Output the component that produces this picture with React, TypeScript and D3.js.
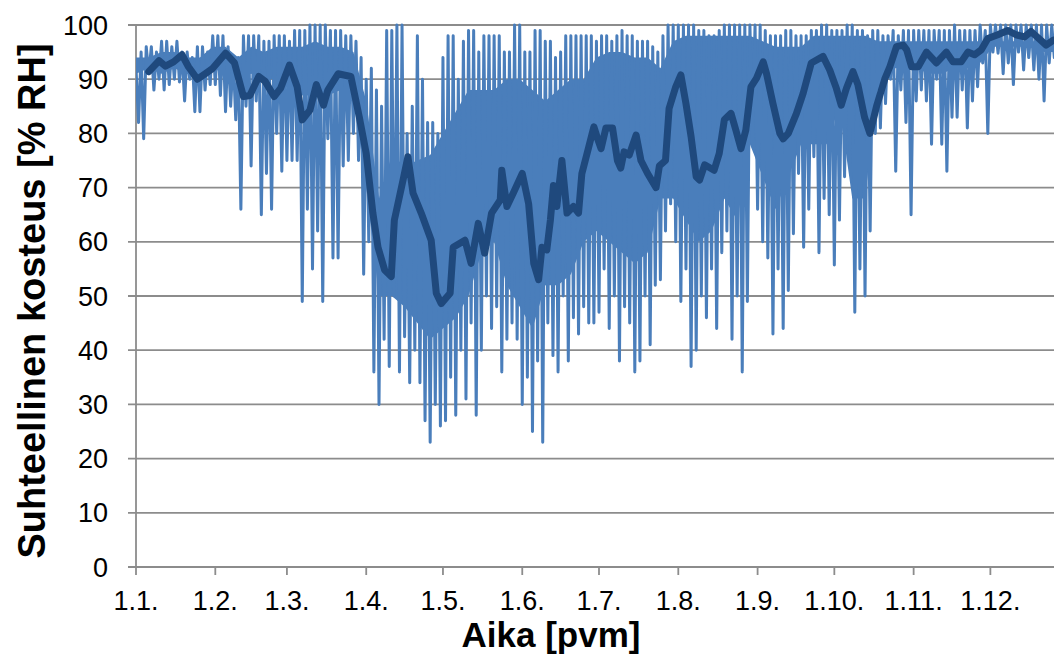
import React from "react";
import * as d3 from "d3";

const YEAR = 2013;

// Hourly RH envelope, read every 2 days: upper and lower excursion of the raw series
const rhHigh = [
  92, 95, 96, 96, 95, 97, 97, 96, 97, 95, 95, 94, 96, 96, 95,
  98, 98, 98, 96, 94, 94, 98, 98, 98, 98, 97, 97, 98, 98, 98,
  97, 99, 99, 99, 100, 100, 100, 100, 99, 99, 99, 98, 98, 97, 94,
  90, 92, 88, 85, 99, 99, 100, 100, 80, 85, 98, 90, 82, 82, 80,
  94, 98, 98, 90, 97, 99, 99, 95, 98, 98, 98, 98, 95, 95, 100,
  100, 95, 95, 99, 99, 97, 97, 94, 95, 98, 98, 98, 98, 98, 98,
  97, 98, 98, 97, 98, 99, 98, 98, 97, 97, 97, 96, 95, 98, 100,
  100, 100, 100, 100, 100, 99, 99, 98, 98, 99, 100, 100, 100, 100, 100,
  100, 100, 100, 99, 98, 98, 98, 99, 99, 98, 98, 98, 99, 99, 100,
  100, 99, 99, 99, 100, 100, 99, 99, 98, 99, 99, 98, 98, 99, 98,
  99, 99, 99, 99, 99, 99, 99, 99, 99, 99, 100, 99, 99, 99, 99,
  100, 99, 100, 100, 100, 100, 100, 100, 100, 100, 100, 100, 100, 100, 100, 99, 99, 99,
];
const rhLow = [
  82, 79, 91, 88, 90, 88, 89, 90, 89.5, 86, 90, 84, 84, 88, 89,
  89, 87, 84, 85, 82.5, 66, 85, 74, 86, 65, 72.6, 66, 80, 73, 75,
  75, 75, 49, 66, 55, 62, 49, 79, 57, 57, 74, 75, 80, 75, 54,
  60, 36, 30, 42, 37, 50, 36, 42.5, 34, 40, 34, 27, 23, 30, 26,
  27, 35, 28, 40, 31, 45, 28, 40, 50, 44, 48, 36, 42, 45, 42,
  30, 35, 25, 38, 23, 45, 39, 36, 50, 38, 46, 43, 48, 45, 45,
  47, 55, 44, 50, 38, 48, 45, 36, 38, 50, 41, 52, 53, 62, 67,
  60, 49, 55, 37, 40, 50, 46, 55, 44, 58, 62, 42, 50, 36, 49,
  78, 66, 60, 57, 43, 55, 44, 51, 61.5, 72.6, 59, 66, 75.7, 58, 68,
  65, 55.7, 64, 72, 77, 47, 55, 50, 62, 80, 81, 85.5, 90, 73, 88,
  82, 65, 86, 88, 86, 78, 90, 78, 73, 83, 83, 88, 81, 86, 88.6,
  93, 80, 95, 94.8, 91, 93, 89, 95, 91.7, 94, 91.7, 90, 86, 93, 94, 93, 94, 94,
];

// Dense core of the hourly series, read every 5 days: top and bottom of the solid band
const bandTop = [
  94, 94, 95, 95, 94, 94, 96, 96, 94, 96, 95, 96, 96, 96, 97, 96, 96, 95,
  86, 68, 76, 74, 75, 76, 80, 84, 88, 88, 88, 90, 90, 88, 86, 88, 90, 90,
  94, 95, 95, 94, 94, 92, 97, 98, 98, 98, 98, 98, 98, 97, 96, 96, 96, 98,
  98, 98, 98, 98, 97, 97, 97, 97, 97, 97, 97, 97, 97, 97, 97, 97, 97, 97, 97,
];
const bandBottom = [
  91, 92, 91, 92, 91, 90, 92, 91, 90, 91, 90, 90, 88, 87, 87, 87, 88, 87,
  70, 50, 50, 48, 45, 42, 44, 46, 50, 58, 60, 52, 48, 44, 52, 52, 54, 60,
  62, 60, 58, 56, 58, 68, 68, 64, 60, 62, 68, 64, 78, 72, 66, 72, 78, 78,
  78, 85, 68, 68, 89, 92, 92, 92, 91, 91, 92, 92, 93, 96, 96, 96, 96, 95, 95,
];

// Moving average (dark line): day of year and RH
const maDay = [
  5, 9, 11.5, 14.7, 18, 20.5, 24, 27, 30, 35,
  38.5, 42, 44.5, 48, 50.5, 54, 56.5, 60, 63, 65,
  68, 70.5, 73.3, 75, 79, 84, 87.3, 90, 92.6, 94.6,
  97.2, 99.8, 101, 104.4, 106.3, 108.3, 111.5, 115.4, 117.4, 119.3,
  122.8, 124, 128.6, 131, 133.8, 136.3, 139, 142.4, 143, 145,
  147.5, 151, 153.5, 155.5, 157.4, 158.7, 160.6, 162, 163.2, 164.5,
  166.5, 168.5, 171, 173, 174.3, 177, 179, 180.6, 181.8, 183.7,
  186.3, 188.2, 189.5, 190.8, 192.8, 195.5, 197.4, 200, 203.3, 204.6,
  207, 208.4, 211, 213, 215, 217, 219, 220.3, 222.3, 226,
  228, 230, 232.6, 234.5, 236.5, 238.4, 240.4, 242.6, 245.2, 246.5,
  249, 251.7, 253, 255, 258.2, 260.8, 264, 268.6, 271.2, 273.8,
  275.7, 277.7, 280.3, 282.2, 284.8, 286.9, 289.5, 292.7, 294.7, 297.3,
  299.9, 301.3, 303.2, 305.8, 309, 312.9, 316.8, 319.4, 322.6, 325.2,
  327.8, 330.4, 333, 336.9, 340.8, 344, 347.3, 349.9, 353, 355.8,
  358.6,
];
const maRH = [
  91.4, 93.4, 92.4, 93.2, 94.5, 92.3, 90, 91, 92, 94.8,
  93, 86.8, 87, 90.5, 89.6, 86.8, 88.3, 92.6, 88.6, 82.5,
  84.3, 89, 85.2, 88, 91, 90.5, 83, 76.3, 65.3, 59,
  54.8, 53.6, 64, 71.4, 75.7, 69, 65.3, 60.3, 50.5, 48.6,
  50.5, 59, 60.3, 56, 63.4, 57.9, 65.3, 67.7, 73.2, 66.5,
  69, 72.6, 67, 56, 53, 59, 58.5, 64, 70.4, 66.5,
  75, 65.3, 66.5, 65.3, 72.6, 77.5, 81.2, 78.8, 77.2, 81,
  81, 75, 73.6, 76.6, 76, 79.7, 75, 72.6, 70, 74,
  75, 84.6, 88.6, 90.8, 85.5, 79.4, 72, 71.4, 74.2, 73.2,
  76.3, 82.5, 83.7, 80.6, 77.2, 80.6, 88.6, 90.2, 93.2, 91,
  85.5, 80, 79, 80, 83.7, 87.4, 93, 94.2, 91.7, 88.3,
  85.2, 88.3, 91.4, 89, 83, 80, 85, 90, 92.3, 96,
  96.3, 95.4, 92.3, 92.3, 95, 93, 95, 93.2, 93.2, 95,
  94.5, 95.4, 97.5, 98.2, 99, 98.2, 97.8, 98.8, 97.5, 96.3,
  97.2,
];

const yTicks = [0, 10, 20, 30, 40, 50, 60, 70, 80, 90, 100];
const xTickLabels = ["1.1.", "1.2.", "1.3.", "1.4.", "1.5.", "1.6.", "1.7.", "1.8.", "1.9.", "1.10.", "1.11.", "1.12."];

const FONT = "'Liberation Sans', Arial, sans-serif";

export default function App() {
  const W = 1054;
  const H = 656;
  const left = 136;
  const top = 25;
  const bottom = 567;
  const t0 = Date.UTC(YEAR, 0, 1);
  const dayDate = (d: number) => new Date(t0 + d * 864e5);

  const x = d3
    .scaleUtc()
    .domain([new Date(t0), new Date(Date.UTC(YEAR + 1, 0, 1))])
    .range([left, left + 365 * 2.558]);
  const y = d3.scaleLinear().domain([0, 100]).range([bottom, top]);

  const months = d3.utcMonth.range(new Date(t0), new Date(Date.UTC(YEAR + 1, 0, 1)));

  const rawPts: [number, number][] = [];
  rhHigh.forEach((h, i) => {
    rawPts.push([2 * i, h]);
    rawPts.push([2 * i + 1, rhLow[i]]);
  });
  const line = d3
    .line<[number, number]>()
    .x((p) => x(dayDate(p[0])))
    .y((p) => y(p[1]));
  const maPts: [number, number][] = maDay.map((d, i) => [d, maRH[i]]);

  const bandPts = bandTop.map((t, i) => ({ d: i * 5, t, b: bandBottom[i] }));
  const area = d3
    .area<{ d: number; t: number; b: number }>()
    .x((p) => x(dayDate(p.d)))
    .y0((p) => y(p.b))
    .y1((p) => y(p.t));

  const grid = "#8c8c8c";
  const light = "#4a7ebb";

  return (
    <div style={{ position: "absolute", left: 0, top: 0 }}>
      <svg width={W} height={H} style={{ display: "block", background: "#fff" }}>
        <defs>
          <clipPath id="plot">
            <rect x={left} y={top - 4} width={W - left} height={bottom - top + 8} />
          </clipPath>
        </defs>
        {yTicks.map((v) => (
          <line key={"g" + v} x1={left - 8} x2={W} y1={y(v)} y2={y(v)} stroke={grid} strokeWidth={1.8} />
        ))}
        <line x1={left} x2={left} y1={top} y2={bottom} stroke={grid} strokeWidth={1.8} />
        {months.map((m, i) => (
          <g key={"t" + i}>
            <line x1={x(m)} x2={x(m)} y1={bottom} y2={bottom + 8} stroke={grid} strokeWidth={1.8} />
            <text x={x(m)} y={610} textAnchor="middle" fontFamily={FONT} fontSize={27} fill="#000">
              {xTickLabels[i]}
            </text>
          </g>
        ))}
        {yTicks.map((v) => (
          <text
            key={"yl" + v}
            x={108}
            y={y(v) + 9.5}
            textAnchor="end"
            fontFamily={FONT}
            fontSize={27}
            fill="#000"
          >
            {v}
          </text>
        ))}
        <g clipPath="url(#plot)">
          <path d={area(bandPts) || ""} fill={light} stroke="none" />
          <path
            d={line(rawPts) || ""}
            fill="none"
            stroke={light}
            strokeWidth={3}
            strokeLinejoin="round"
            strokeLinecap="round"
          />
          <path
            d={line(maPts) || ""}
            fill="none"
            stroke="#1f497d"
            strokeWidth={7}
            strokeLinejoin="round"
            strokeLinecap="round"
          />
        </g>
        <text x={551} y={647} textAnchor="middle" fontFamily={FONT} fontSize={35} fontWeight="bold" fill="#000">
          Aika [pvm]
        </text>
        <text
          transform={`translate(45,301) rotate(-90)`}
          textAnchor="middle"
          fontFamily={FONT}
          fontSize={38}
          fontWeight="bold"
          fill="#000"
        >
          Suhteellinen kosteus [% RH]
        </text>
      </svg>
    </div>
  );
}
